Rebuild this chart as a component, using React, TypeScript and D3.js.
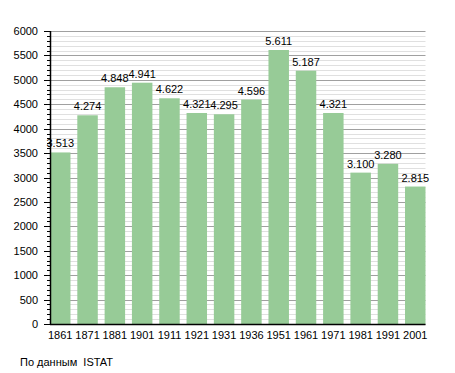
import * as d3 from 'd3'
import { useEffect, useRef } from 'react'

const years = ['1861', '1871', '1881', '1901', '1911', '1921', '1931', '1936', '1951', '1961', '1971', '1981', '1991', '2001']
const population = [3513, 4274, 4848, 4941, 4622, 4321, 4295, 4596, 5611, 5187, 4321, 3100, 3280, 2815]
const yTicks = [0, 500, 1000, 1500, 2000, 2500, 3000, 3500, 4000, 4500, 5000, 5500, 6000]

export default function App() {
  const svgRef = useRef(null)

  const width = 455
  const height = 373
  const left = 50
  const right = 425.5
  const top = 31
  const bottom = 324

  useEffect(() => {
    const svg = d3.select(svgRef.current)
    svg.selectAll('*').remove()

    const x = d3.scaleBand()
      .domain(years)
      .range([left, right])
      .paddingInner(0.25)
      .paddingOuter(0)

    const y = d3.scaleLinear()
      .domain([0, 6000])
      .range([bottom, top])

    // minor grid every 100
    const minor = d3.range(0, 6001, 100)
    svg.append('g')
      .selectAll('line')
      .data(minor)
      .enter()
      .append('line')
      .attr('x1', left - 3)
      .attr('x2', right)
      .attr('y1', d => Math.round(y(d)) + 0.5)
      .attr('y2', d => Math.round(y(d)) + 0.5)
      .style('stroke', d => d % 500 === 0 ? '#a0a0a0' : '#e0e0e0')
      .style('stroke-width', 1)

    // major ticks
    svg.append('g')
      .selectAll('line')
      .data(yTicks)
      .enter()
      .append('line')
      .attr('x1', left - 6)
      .attr('x2', left)
      .attr('y1', d => Math.round(y(d)) + 0.5)
      .attr('y2', d => Math.round(y(d)) + 0.5)
      .style('stroke', 'black')

    svg.append('g')
      .selectAll('line')
      .data(minor)
      .enter()
      .append('line')
      .attr('x1', left - 3)
      .attr('x2', left)
      .attr('y1', d => Math.round(y(d)) + 0.5)
      .attr('y2', d => Math.round(y(d)) + 0.5)
      .style('stroke', 'black')

    svg.selectAll('.bar')
      .data(population)
      .enter()
      .append('rect')
      .attr('class', 'bar')
      .attr('x', (d, i) => x(years[i])!)
      .attr('y', d => y(d))
      .attr('width', x.bandwidth())
      .attr('height', d => bottom - y(d))
      .style('fill', '#97cb97')

    svg.selectAll('.val')
      .data(population)
      .enter()
      .append('text')
      .attr('class', 'val')
      .attr('x', (d, i) => x(years[i])! + x.bandwidth() / 2)
      .attr('y', d => y(d) - 5)
      .attr('text-anchor', 'middle')
      .style('font-family', 'Liberation Sans, Arial, sans-serif')
      .style('font-size', '11px')
      .text(d => d3.format(',')(d).replace(',', '.'))

    svg.selectAll('.ylab')
      .data(yTicks)
      .enter()
      .append('text')
      .attr('class', 'ylab')
      .attr('x', 38)
      .attr('y', d => y(d) + 4)
      .attr('text-anchor', 'end')
      .style('font-family', 'Liberation Sans, Arial, sans-serif')
      .style('font-size', '11px')
      .text(d => d)

    svg.selectAll('.xlab')
      .data(years)
      .enter()
      .append('text')
      .attr('class', 'xlab')
      .attr('x', d => x(d)! + x.bandwidth() / 2)
      .attr('y', bottom + 15)
      .attr('text-anchor', 'middle')
      .style('font-family', 'Liberation Sans, Arial, sans-serif')
      .style('font-size', '11px')
      .text(d => d)

    // axes lines
    svg.append('line')
      .attr('x1', left + 0.5).attr('x2', left + 0.5)
      .attr('y1', top).attr('y2', bottom + 1)
      .style('stroke', 'black')
      .style('stroke-width', 1.5)
    svg.append('line')
      .attr('x1', left).attr('x2', right)
      .attr('y1', bottom + 0.5).attr('y2', bottom + 0.5)
      .style('stroke', 'black')
      .style('stroke-width', 1.5)

    svg.append('text')
      .attr('x', 20)
      .attr('y', 366)
      .style('font-family', 'Liberation Sans, Arial, sans-serif')
      .style('font-size', '11px')
      .style('white-space', 'pre')
      .text('По данным  ISTAT')
  }, [])

  return (
    <svg ref={svgRef} width={width} height={height}
      style={{ position: 'absolute', left: 0, top: 0, background: 'white' }}>
    </svg>
  )
}
